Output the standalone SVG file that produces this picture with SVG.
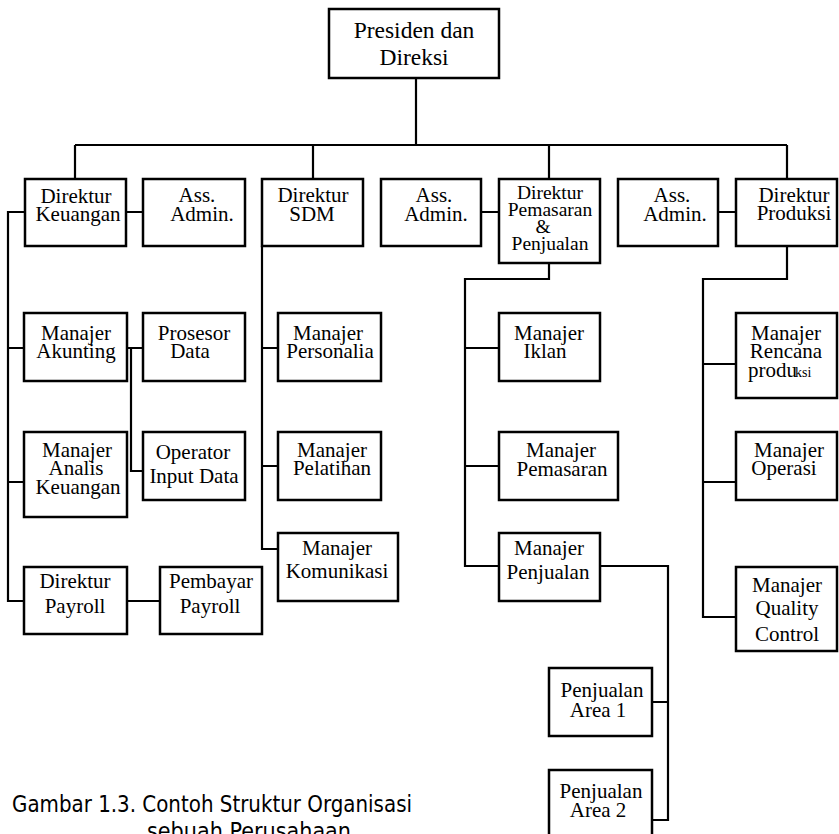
<svg xmlns="http://www.w3.org/2000/svg" width="839" height="834" viewBox="0 0 839 834">
<style>
  .box { fill: #ffffff; stroke: #000000; stroke-width: 2.5; }
  .conn { fill: none; stroke: #000000; stroke-width: 2.2; }
  .t { font-family: 'Liberation Serif', 'DejaVu Serif', 'Times New Roman', serif; font-size: 21px; fill: #000000; text-anchor: middle; }
  .big { font-size: 23.5px; }
  .sm { font-size: 19.5px; }
  .cap { font-family: 'DejaVu Sans', 'Liberation Sans', sans-serif; font-size: 23px; fill: #000000; }
</style>
<rect width="839" height="834" fill="#ffffff"/>
<g id="connectors">
  <path class="conn" d="M416,78 V145 M75,145 H787 M75,145 V179 M313,145 V179 M549,145 V179 M787,145 V179"/>
  <path class="conn" d="M126,212 H143 M481,212 H499 M718,212 H736"/>
  <path class="conn" d="M25,212 H8 V601 H24 M8,348 H24 M8,482 H24"/>
  <path class="conn" d="M127,348 H143 M131,348 V471 H143"/>
  <path class="conn" d="M127,601 H160"/>
  <path class="conn" d="M262,246 V549 H278 M262,348 H278 M262,466 H278"/>
  <path class="conn" d="M549,263 V279 H465 V566 H499 M465,348 H499 M465,466 H499"/>
  <path class="conn" d="M600,566 H668 V820 H652 M668,702 H652"/>
  <path class="conn" d="M787,246 V279 H703 V617 H736 M703,364 H736 M703,482 H736"/>
</g>
<g id="presiden">
  <rect class="box" x="329" y="9" width="170" height="69"/>
  <text class="t big" x="414" y="38">Presiden dan</text>
  <text class="t big" x="414" y="65">Direksi</text>
</g>
<g id="dir-keuangan">
  <rect class="box" x="25" y="179" width="101" height="67"/>
  <text class="t" x="76" y="203">Direktur</text>
  <text class="t" x="78" y="221">Keuangan</text>
</g>
<g id="ass-admin-1">
  <rect class="box" x="143" y="179" width="102" height="67"/>
  <text class="t" x="197" y="202">Ass.</text>
  <text class="t" x="202" y="221">Admin.</text>
</g>
<g id="dir-sdm">
  <rect class="box" x="262" y="179" width="101" height="67"/>
  <text class="t" x="313" y="202">Direktur</text>
  <text class="t" x="312" y="221">SDM</text>
</g>
<g id="ass-admin-2">
  <rect class="box" x="381" y="179" width="100" height="67"/>
  <text class="t" x="434" y="202">Ass.</text>
  <text class="t" x="436" y="221">Admin.</text>
</g>
<g id="dir-pemasaran">
  <rect class="box" x="499" y="179" width="101" height="84"/>
  <text class="t sm" x="550" y="199">Direktur</text>
  <text class="t sm" x="550" y="216">Pemasaran</text>
  <text class="t sm" x="543" y="233">&amp;</text>
  <text class="t sm" x="550" y="250">Penjualan</text>
</g>
<g id="ass-admin-3">
  <rect class="box" x="618" y="179" width="100" height="67"/>
  <text class="t" x="672" y="202">Ass.</text>
  <text class="t" x="675" y="221">Admin.</text>
</g>
<g id="dir-produksi">
  <rect class="box" x="736" y="179" width="101" height="67"/>
  <text class="t" x="794" y="202">Direktur</text>
  <text class="t" x="794" y="220">Produksi</text>
</g>
<g id="man-akunting">
  <rect class="box" x="24" y="313" width="103" height="68"/>
  <text class="t" x="76" y="340">Manajer</text>
  <text class="t" x="76" y="358">Akunting</text>
</g>
<g id="prosesor-data">
  <rect class="box" x="143" y="313" width="102" height="68"/>
  <text class="t" x="194" y="340">Prosesor</text>
  <text class="t" x="190" y="358">Data</text>
</g>
<g id="man-analis">
  <rect class="box" x="24" y="432" width="103" height="85"/>
  <text class="t" x="77" y="457">Manajer</text>
  <text class="t" x="76" y="475">Analis</text>
  <text class="t" x="78" y="494">Keuangan</text>
</g>
<g id="operator-input">
  <rect class="box" x="143" y="432" width="102" height="68"/>
  <text class="t" x="193" y="459">Operator</text>
  <text class="t" x="194" y="483">Input Data</text>
</g>
<g id="dir-payroll">
  <rect class="box" x="24" y="567" width="103" height="67"/>
  <text class="t" x="75" y="588">Direktur</text>
  <text class="t" x="75" y="613">Payroll</text>
</g>
<g id="pembayar-payroll">
  <rect class="box" x="160" y="567" width="102" height="67"/>
  <text class="t" x="211" y="588">Pembayar</text>
  <text class="t" x="210" y="613">Payroll</text>
</g>
<g id="man-personalia">
  <rect class="box" x="278" y="313" width="103" height="68"/>
  <text class="t" x="328" y="340">Manajer</text>
  <text class="t" x="330" y="358">Personalia</text>
</g>
<g id="man-pelatihan">
  <rect class="box" x="278" y="432" width="103" height="68"/>
  <text class="t" x="332" y="457">Manajer</text>
  <text class="t" x="332" y="475">Pelatihan</text>
</g>
<g id="man-komunikasi">
  <rect class="box" x="278" y="533" width="120" height="68"/>
  <text class="t" x="337" y="555">Manajer</text>
  <text class="t" x="337" y="578">Komunikasi</text>
</g>
<g id="man-iklan">
  <rect class="box" x="499" y="313" width="101" height="68"/>
  <text class="t" x="549" y="340">Manajer</text>
  <text class="t" x="545" y="358">Iklan</text>
</g>
<g id="man-pemasaran">
  <rect class="box" x="499" y="432" width="119" height="68"/>
  <text class="t" x="561" y="457">Manajer</text>
  <text class="t" x="562" y="476">Pemasaran</text>
</g>
<g id="man-penjualan">
  <rect class="box" x="499" y="533" width="101" height="68"/>
  <text class="t" x="549" y="555">Manajer</text>
  <text class="t" x="548" y="579">Penjualan</text>
</g>
<g id="penjualan-area-1">
  <rect class="box" x="549" y="668" width="103" height="68"/>
  <text class="t" x="602" y="697">Penjualan</text>
  <text class="t" x="598" y="717">Area 1</text>
</g>
<g id="penjualan-area-2">
  <rect class="box" x="549" y="770" width="103" height="70"/>
  <text class="t" x="601" y="798">Penjualan</text>
  <text class="t" x="598" y="817">Area 2</text>
</g>
<g id="man-rencana">
  <rect class="box" x="736" y="313" width="101" height="85"/>
  <text class="t" x="786" y="340">Manajer</text>
  <text class="t" x="786" y="358">Rencana</text>
  <text class="t" x="748" y="377" style="text-anchor:start">produ<tspan font-size="14" dx="-2">ksi</tspan></text>
</g>
<g id="man-operasi">
  <rect class="box" x="736" y="432" width="101" height="68"/>
  <text class="t" x="789" y="457">Manajer</text>
  <text class="t" x="784" y="475">Operasi</text>
</g>
<g id="man-quality">
  <rect class="box" x="736" y="567" width="101" height="84"/>
  <text class="t" x="787" y="592">Manajer</text>
  <text class="t" x="787" y="615">Quality</text>
  <text class="t" x="787" y="641">Control</text>
</g>
<g id="caption">
  <text class="cap" x="12" y="812" textLength="400" lengthAdjust="spacingAndGlyphs">Gambar 1.3. Contoh Struktur Organisasi</text>
  <text class="cap" x="147" y="839" textLength="204" lengthAdjust="spacingAndGlyphs">sebuah Perusahaan</text>
</g>
</svg>
